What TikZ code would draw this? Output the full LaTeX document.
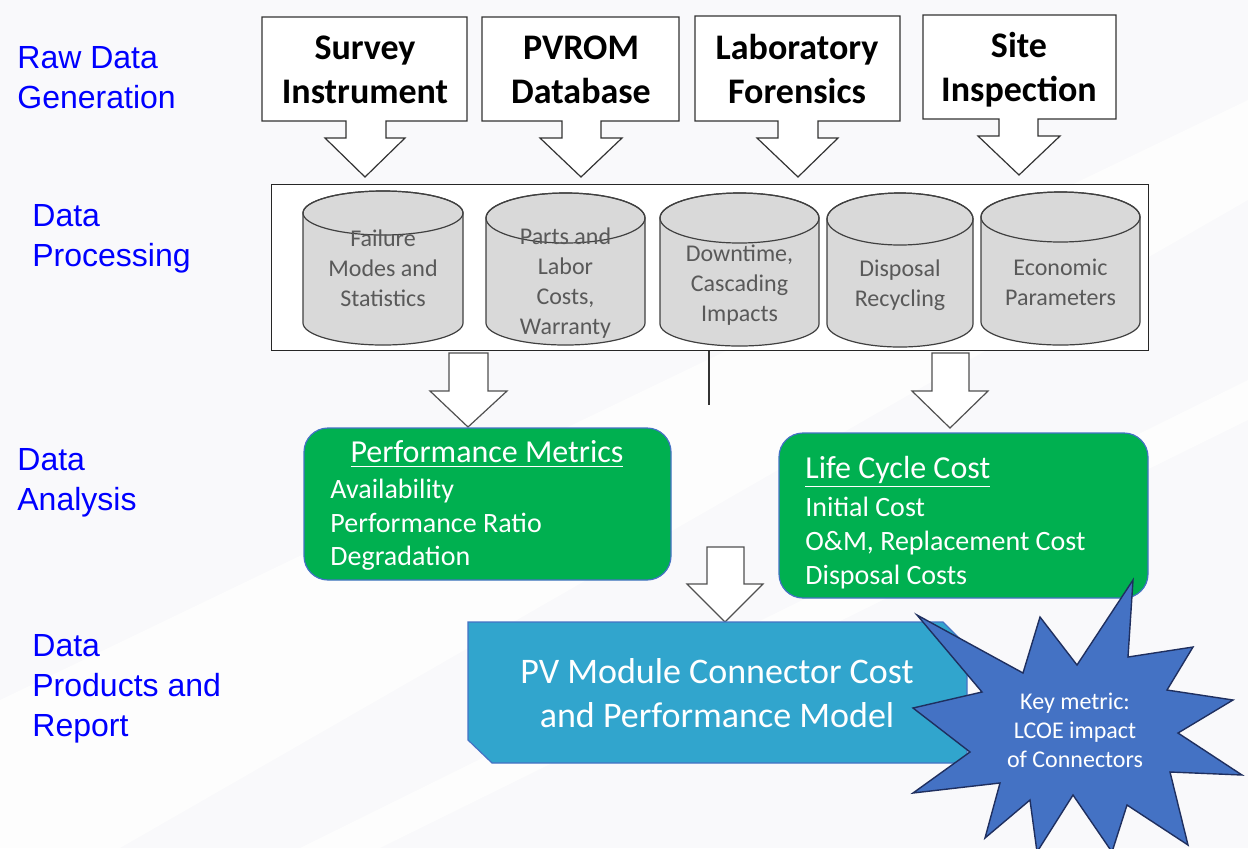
\documentclass[tikz,border=0pt]{standalone}
\usepackage{fontspec}
\setmainfont{Carlito}
\newfontfamily\arialf{Liberation Sans}
\definecolor{bgc}{RGB}{249,249,251}
\definecolor{lblblue}{RGB}{0,0,255}
\definecolor{grn}{RGB}{0,176,80}
\definecolor{bordblue}{RGB}{68,114,196}
\definecolor{pvblue}{RGB}{49,165,205}
\definecolor{starblue}{RGB}{68,114,196}
\definecolor{stardark}{RGB}{31,47,95}
\definecolor{cylfill}{RGB}{217,217,217}
\definecolor{cylline}{RGB}{64,64,64}
\definecolor{cyltext}{RGB}{89,89,89}
\definecolor{arrline}{RGB}{80,80,80}
\tikzset{
  stagelbl/.style={anchor=west,align=left,inner sep=0pt,text=lblblue,font=\arialf\fontsize{16}{20}\selectfont},
  srcbox/.style={fill=white,draw=black!80,line width=0.6pt,line join=miter},
  srctext/.style={align=center,inner sep=0pt,font=\bfseries\fontsize{18}{22}\selectfont},
  hollow/.style={fill=white,draw=arrline,line width=0.6pt,line join=miter},
  cylbody/.style={fill=cylfill,draw=cylline,line width=0.6pt},
  cyltxt/.style={align=center,inner sep=0pt,text=cyltext,font=\fontsize{12}{15}\selectfont},
  greenbox/.style={fill=grn,draw=bordblue,line width=0.6pt,rounded corners=12pt},
  gtitle/.style={inner sep=0pt,text=white,font=\fontsize{16}{19}\selectfont},
  gbody/.style={anchor=west,align=left,inner sep=0pt,text=white,font=\fontsize{14}{16.8}\selectfont},
}
\newcommand\mycyl[6]{% cx, rx, top center y, top ry, bottom center y, bottom ry
  \filldraw[cylbody] ({#1-#2},{-#3}) -- ({#1-#2},{-#5}) arc (180:360:{#2} and {#6}) -- ({#1+#2},{-#3}) arc (0:180:{#2} and {#4}) -- cycle;
  \draw[cylline,line width=0.6pt] (#1,{-#3}) ellipse ({#2} and {#4});
}
\begin{document}
\begin{tikzpicture}[x=0.5pt,y=0.5pt]
\useasboundingbox (0,0) rectangle (1248,-848);
\fill[bgc] (0,0) rectangle (1248,-848);
\fill[white!60!bgc] (0,-848) -- (0,-700) -- (1248,-100) -- (1248,-200) -- (120,-848) -- cycle;
\fill[white!60!bgc] (300,-848) -- (1248,-380) -- (1248,-420) -- (380,-848) -- cycle;

% stage labels
\node[stagelbl] (l1) at (17,-78) {Raw Data\\Generation};
\node[stagelbl] (l2) at (32,-239) {Data\\Processing};
\node[stagelbl] (l3) at (17,-483) {Data\\Analysis};
\node[stagelbl] (l4) at (32,-689) {Data\\Products and\\Report};

% source boxes with callout arrows
\draw[srcbox] (262,-17) -- (467,-17) -- (467,-121) -- (386,-121) -- (386,-138) -- (405,-138) -- (365,-177) -- (325,-138) -- (346,-138) -- (346,-121) -- (262,-121) -- cycle;
\node[srctext] (s1) at (365,-70) {Survey\\Instrument};
\draw[srcbox] (482,-17) -- (679,-17) -- (679,-121) -- (601,-121) -- (601,-138) -- (622,-138) -- (581,-177) -- (540,-138) -- (562,-138) -- (562,-121) -- (482,-121) -- cycle;
\node[srctext] (s2) at (581,-70) {PVROM\\Database};
\draw[srcbox] (695,-16) -- (900,-16) -- (900,-121) -- (818,-121) -- (818,-138) -- (838,-138) -- (798,-177) -- (757,-138) -- (778,-138) -- (778,-121) -- (695,-121) -- cycle;
\node[srctext] (s3) at (797,-69) {Laboratory\\Forensics};
\draw[srcbox] (923,-15) -- (1116,-15) -- (1116,-119) -- (1038,-119) -- (1038,-136) -- (1060,-136) -- (1019,-175) -- (978,-136) -- (999,-136) -- (999,-119) -- (923,-119) -- cycle;
\node[srctext] (s4) at (1019,-70) {Site\\Inspection};

% processing box
\node[draw=black!85,line width=0.6pt,fill=white,minimum width=438.5pt,minimum height=83pt,inner sep=0pt,anchor=north west] (proc) at (271,-184) {};

\mycyl{383}{80}{213}{22}{323}{22}
\node[cyltxt] (c1) at (383,-268) {Failure\\Modes and\\Statistics};
\mycyl{565.5}{79.5}{218}{25}{323}{22}
\node[cyltxt] (c2) at (565.5,-283) {Parts and\\Labor\\Costs,\\Warranty};
\mycyl{739.5}{79.5}{218}{25}{324}{22}
\node[cyltxt] (c3) at (739.5,-285) {Downtime,\\Cascading\\Impacts};
\mycyl{900}{73}{219}{26}{324}{23}
\node[cyltxt] (c4) at (900,-285) {Disposal\\Recycling};
\mycyl{1060.5}{79.5}{217}{25}{322}{23}
\node[cyltxt] (c5) at (1060.5,-282) {Economic\\Parameters};

% arrows below processing
\draw[hollow] (449,-353) -- (488,-353) -- (488,-391) -- (507,-391) -- (468,-427) -- (430,-391) -- (449,-391) -- cycle;
\coordinate (vl) at (709,-405);
\draw[black!80,line width=0.8pt] (proc.south -| vl) -- (vl);
\draw[hollow] (932,-353) -- (969,-353) -- (969,-391) -- (988,-391) -- (950,-428) -- (912,-391) -- (932,-391) -- cycle;

% analysis boxes
\draw[greenbox] (304,-428) rectangle (671,-580);
\node[gtitle] (pmt) at (487,-454) {\underline{Performance Metrics}};
\node[gbody] (pmb) at (330,-525) {Availability\\Performance Ratio\\Degradation};
\draw[greenbox] (779,-433) rectangle (1148,-598);
\node[gtitle,anchor=west] (lct) at (805,-472) {\underline{Life Cycle Cost}};
\node[gbody] (lcb) at (805,-543) {Initial Cost\\O\&M, Replacement Cost\\Disposal Costs};

% middle arrow
\draw[hollow] (707,-547) -- (744,-547) -- (744,-584) -- (763,-584) -- (725,-622) -- (687,-584) -- (707,-584) -- cycle;

% PV model box
\draw[fill=pvblue,draw=bordblue,line width=0.6pt] (468,-622) -- (943,-622) -- (967,-646) -- (967,-763) -- (492,-763) -- (468,-740) -- cycle;
\node[align=center,inner sep=0pt,text=white,font=\fontsize{18}{22}\selectfont] (pv) at (717,-693) {PV Module Connector Cost\\and Performance Model};

% star
\draw[fill=starblue,draw=stardark,line width=0.7pt,line join=miter]
 (917,-615) -- (1023,-673) -- (1040,-617) -- (1077,-665) -- (1133,-580) -- (1128,-657)
 -- (1193,-647) -- (1167,-690) -- (1233,-700) -- (1178,-733) -- (1242,-775) -- (1170,-772)
 -- (1188,-845) -- (1127,-805) -- (1112,-852) -- (1073,-795) -- (1037,-852) -- (1030,-800)
 -- (985,-838) -- (1000,-783) -- (913,-793) -- (970,-752) -- (913,-708) -- (982,-692) -- cycle;
\node[align=center,inner sep=0pt,text=white,font=\fontsize{12}{14.5}\selectfont] (key) at (1075,-730) {Key metric:\\LCOE impact\\of Connectors};
\end{tikzpicture}
\end{document}
